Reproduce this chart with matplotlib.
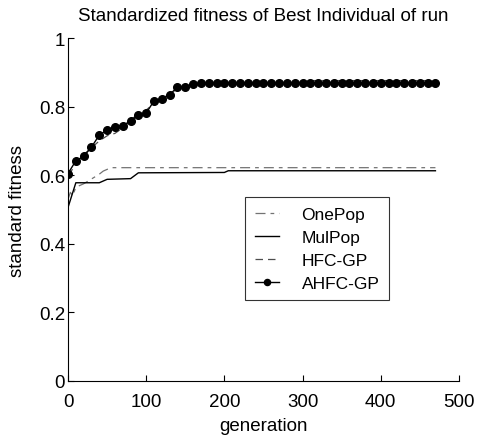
import matplotlib
matplotlib.use("Agg")
import matplotlib.pyplot as plt
import numpy as np

plt.rcParams['font.family'] = ['Liberation Sans', 'DejaVu Sans']

# AHFC-GP, one marker every 10 generations
gen_ahfc = list(range(0, 480, 10))
ahfc = [0.605, 0.642, 0.655, 0.682, 0.717, 0.732, 0.741, 0.745, 0.758, 0.776,
        0.781, 0.817, 0.821, 0.835, 0.857, 0.857, 0.865] + [0.869] * 31

# HFC-GP
gen_hfc = [0, 10, 20, 30, 40, 50, 60, 70, 80, 90, 100, 110, 120, 130, 140, 150, 170, 300, 310, 470]
hfc = [0.600, 0.630, 0.660, 0.680, 0.700, 0.715, 0.722, 0.738, 0.760, 0.780,
       0.790, 0.810, 0.820, 0.840, 0.850, 0.860, 0.868, 0.868, 0.876, 0.876]

# OnePop
gen_one = [0, 3, 6, 10, 20, 40, 45, 55, 470]
one = [0.530, 0.550, 0.540, 0.565, 0.575, 0.603, 0.612, 0.622, 0.622]

# MulPop
gen_mul = [0, 10, 40, 50, 80, 90, 200, 205, 470]
mul = [0.506, 0.578, 0.578, 0.588, 0.590, 0.607, 0.608, 0.613, 0.613]

fig = plt.figure(figsize=(4.79, 4.39), dpi=100)
ax = fig.add_axes([0.142, 0.130, 0.816, 0.781])

ax.plot(gen_one, one, color='0.45', lw=0.9, ls=(0, (8, 4, 3, 4)), label='OnePop')
ax.plot(gen_mul, mul, color='black', lw=1.0, label='MulPop')
ax.plot(gen_hfc, hfc, color='0.3', lw=0.9, ls=(0, (6, 4)), label='HFC-GP')
ax.plot(gen_ahfc, ahfc, color='black', lw=1.0, marker='o', ms=5.5, label='AHFC-GP')

ax.set_xlim(0, 500)
ax.set_ylim(0, 1)
ax.set_xticks([0, 100, 200, 300, 400, 500])
ax.set_yticks([0, 0.2, 0.4, 0.6, 0.8, 1])
ax.set_yticklabels(['0', '0.2', '0.4', '0.6', '0.8', '1'])
ax.tick_params(direction='in', length=4, labelsize=13.5, width=0.8)
ax.tick_params(axis='x', pad=9)
ax.tick_params(axis='y', pad=2)
ax.spines['top'].set_visible(False)
ax.spines['right'].set_visible(False)

ax.set_xlabel('generation', fontsize=13.5, labelpad=5)
ax.set_ylabel('standard fitness', fontsize=13.5, labelpad=9)
ax.set_title('Standardized fitness of Best Individual of run', fontsize=13.5, pad=13)

leg = ax.legend(loc='upper left', bbox_to_anchor=(0.453, 0.536), fontsize=12.5,
                frameon=True, fancybox=False, edgecolor='black', handlelength=1.4,
                borderpad=0.55, labelspacing=0.45, handletextpad=1.3, borderaxespad=0,
                markerscale=0.8)
leg.get_frame().set_linewidth(0.8)

fig.savefig('out.png', dpi=100)
